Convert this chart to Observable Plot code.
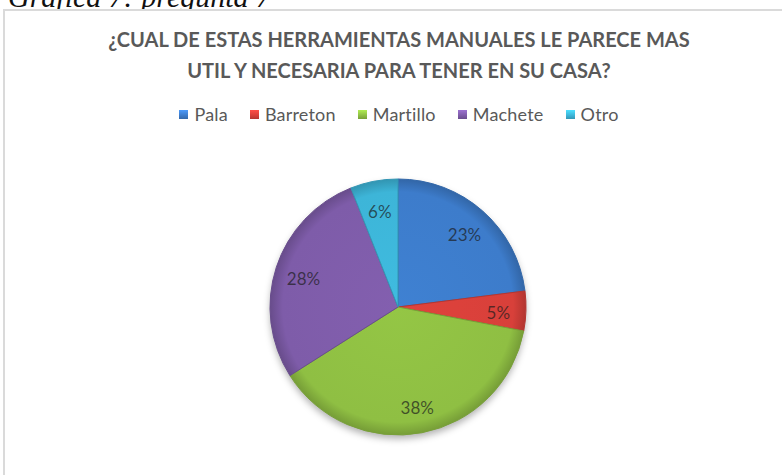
<!DOCTYPE html>
<html><head><meta charset="utf-8">
<script src="https://cdn.jsdelivr.net/npm/d3@7"></script>
<script src="https://cdn.jsdelivr.net/npm/@observablehq/plot@0.6"></script>
<style>
html,body{margin:0;padding:0;background:#fff;}
body{width:782px;height:475px;overflow:hidden;position:relative;font-family:Lato,"Open Sans",sans-serif;}
#cap{position:absolute;left:8px;top:-18px;font:italic 30px/30px "Liberation Serif","DejaVu Serif",serif;color:#111;white-space:nowrap;}
#box{position:absolute;left:3px;top:9px;width:800px;height:500px;border:2px solid #dadada;box-sizing:border-box;background:#fff;}
#title{position:absolute;left:0;width:798px;top:24px;text-align:center;font-weight:bold;font-size:20px;line-height:31px;color:#595959;}
#legend{position:absolute;top:104px;left:0;width:798px;height:20px;display:flex;justify-content:center;align-items:center;gap:22px;font-size:18px;line-height:20px;color:#595959;font-variant-ligatures:none;letter-spacing:0.2px;}
#legend .it{display:flex;align-items:center;}
#legend .sw{width:9px;height:9px;margin-right:6px;}
#chart{position:absolute;left:0;top:130px;}
</style>
</head><body>
<div id="cap">Grafica 7: pregunta 7</div>
<div id="box"></div>
<div id="title">¿CUAL DE ESTAS HERRAMIENTAS MANUALES LE PARECE MAS<br>UTIL Y NECESARIA PARA TENER EN SU CASA?</div>
<div id="legend"></div>
<div id="chart"></div>
<script>
const categories = ["Pala", "Barreton", "Martillo", "Machete", "Otro"];
const values = [23, 5, 38, 28, 6];
const colors = ["#3d7ccb", "#d8403a", "#8fbf43", "#7e5ca9", "#3db5d8"];
const labels = ["23%", "5%", "38%", "28%", "6%"];

const data = categories.map((c, i) => ({category: c, value: values[i], label: labels[i]}));
const pieGen = d3.pie().value(d => d.value).sort(null);
const arcs = pieGen(data);
const labelR = 0.78;
const labelData = arcs.map(a => {
  const m = (a.startAngle + a.endAngle) / 2;
  return {lx: Math.sin(m) * labelR, ly: Math.cos(m) * labelR, label: a.data.label};
});

// legend
const leg = d3.select("#legend");
categories.forEach((c, i) => {
  const it = leg.append("div").attr("class", "it");
  it.append("div").attr("class", "sw")
    .style("background", `linear-gradient(180deg, ${d3.color(colors[i]).brighter(0.6)} 0%, ${colors[i]} 60%, ${d3.color(colors[i]).darker(0.5)} 100%)`);
  it.append("span").text(c);
});

class PieMark extends Plot.Mark {
  constructor(data, {value, fill, ...options} = {}) {
    super(data, {
      value: {value},
      fill: {value: fill, scale: "color"}
    }, options);
  }
  render(index, scales, channels, dimensions, context) {
    const V = channels.value, F = channels.fill;
    const cx = scales.x(0), cy = scales.y(0), r = scales.x(1) - cx;
    const pa = d3.pie().sort(null).value(i => +V[i])(Array.from(index));
    const g = d3.create("svg:g");
    const defs = g.append("defs");
    const filt = defs.append("filter").attr("id", "pshadow").attr("x", "-30%").attr("y", "-30%").attr("width", "160%").attr("height", "160%")
      .attr("color-interpolation-filters", "sRGB");
    filt.append("feGaussianBlur").attr("stdDeviation", 3.5);
    pa.forEach((a, k) => {
      const base = F[a.data];
      const gr = defs.append("radialGradient").attr("id", "pg" + k)
        .attr("gradientUnits", "userSpaceOnUse").attr("cx", 0).attr("cy", 0).attr("r", r);
      gr.append("stop").attr("offset", "0%").attr("stop-color", d3.color(base).brighter(0.1));
      gr.append("stop").attr("offset", "90%").attr("stop-color", base);
      gr.append("stop").attr("offset", "100%").attr("stop-color", d3.color(base).darker(0.55));
    });
    // soft shadow under the pie
    g.append("circle").attr("cx", cx).attr("cy", cy + 4).attr("r", r)
      .attr("fill", "#000").attr("fill-opacity", 0.3).attr("filter", "url(#pshadow)");
    const arc = d3.arc().innerRadius(0).outerRadius(r);
    const pg = g.append("g").attr("transform", `translate(${cx},${cy})`);
    pa.forEach((a, k) => {
      pg.append("path")
        .attr("d", arc(a))
        .attr("fill", `url(#pg${k})`)
        .attr("stroke", d3.color(F[a.data]).darker(0.5))
        .attr("stroke-width", 1)
        .attr("stroke-linejoin", "round");
    });
    return g.node();
  }
}

const chart = Plot.plot({
  width: 782,
  height: 345,
  margin: 0,
  x: {domain: [-1, 1], range: [270, 526], axis: null},
  y: {domain: [-1, 1], range: [305, 49], axis: null},
  color: {domain: categories, range: colors},
  marks: [
    new PieMark(data, {value: "value", fill: "category"}),
    Plot.text(labelData, {x: "lx", y: "ly", text: "label", fill: "#1c1c1c", fillOpacity: 0.7,
      fontSize: 17, fontFamily: "Lato", dy: 3})
  ]
});
document.getElementById("chart").appendChild(chart);
</script>
</body></html>
